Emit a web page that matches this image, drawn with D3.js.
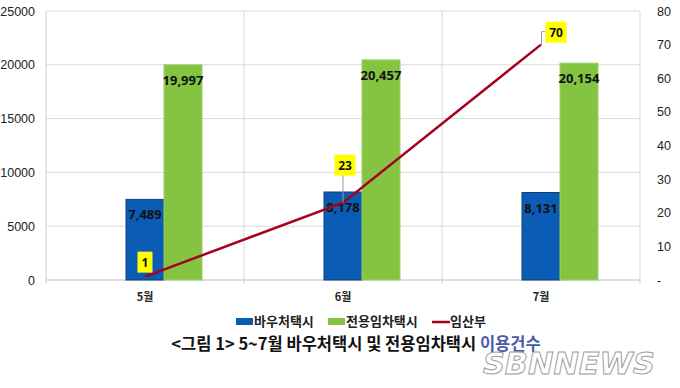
<!DOCTYPE html>
<html>
<head>
<meta charset="utf-8">
<script src="https://cdn.jsdelivr.net/npm/d3@7"></script>
<style>
  body { margin: 0; background: #fff; }
  svg { font-family: "Noto Sans CJK KR", "Noto Sans", sans-serif; }
</style>
</head>
<body>
<svg id="chart"></svg>
<script>
// data
const months = ["5월", "6월", "7월"];
const voucherTaxi = [7489, 8178, 8131];     // 바우처택시
const rentalTaxi = [19997, 20457, 20154];    // 전용임차택시
const pregnant = [1, 23, 70];                // 임산부 (right axis)
const leftTicks = [0, 5000, 10000, 15000, 20000, 25000];
const rightTicks = [0, 10, 20, 30, 40, 50, 60, 70, 80];
const seriesNames = ["바우처택시", "전용임차택시", "임산부"];

const width = 680, height = 388;
const margin = { top: 11, right: 40, bottom: 108, left: 46 };
const innerW = width - margin.left - margin.right;
const innerH = height - margin.top - margin.bottom;

const colors = { blue: "#0b5cb5", green: "#84c441", red: "#a8001e" };

const svg = d3.select("#chart").attr("width", width).attr("height", height);
const chart = svg.append("g").attr("transform", `translate(${margin.left},${margin.top})`);

const x = d3.scaleBand().domain(months).range([0, innerW]);
// first slot left empty, as in the original spreadsheet chart
const xInner = d3.scaleBand().domain(["", seriesNames[0], seriesNames[1]])
  .range([x.bandwidth() / 2 - 57, x.bandwidth() / 2 + 57]);
const yLeft = d3.scaleLinear().domain([0, 25000]).range([innerH, 0]);
const yRight = d3.scaleLinear().domain([0, 80]).range([innerH, 0]);

// horizontal grid
chart.selectAll(".hgrid").data(leftTicks).join("line")
  .attr("class", "hgrid")
  .attr("x1", 0).attr("x2", innerW)
  .attr("y1", d => yLeft(d)).attr("y2", d => yLeft(d))
  .attr("stroke", "#d9d9d9").attr("stroke-width", 1);

// vertical grid at category boundaries
chart.selectAll(".vgrid").data(months.slice(1)).join("line")
  .attr("class", "vgrid")
  .attr("x1", d => x(d)).attr("x2", d => x(d))
  .attr("y1", 0).attr("y2", innerH)
  .attr("stroke", "#d9d9d9");

// frame
chart.append("line").attr("x1", 0).attr("x2", 0).attr("y1", 0).attr("y2", innerH + 4).attr("stroke", "#d0d0d0");
chart.append("line").attr("x1", innerW).attr("x2", innerW).attr("y1", 0).attr("y2", innerH).attr("stroke", "#d9d9d9");
chart.append("line").attr("x1", 0).attr("x2", innerW).attr("y1", innerH).attr("y2", innerH).attr("stroke", "#d0d0d0");
chart.selectAll(".xtick").data(months.slice(1).concat("end")).join("line")
  .attr("x1", (d, i) => i < 2 ? x(d) : innerW).attr("x2", (d, i) => i < 2 ? x(d) : innerW)
  .attr("y1", innerH).attr("y2", innerH + 4).attr("stroke", "#d0d0d0");

// left axis labels
const leftAxis = chart.append("g")
  .call(d3.axisLeft(yLeft).tickValues(leftTicks).tickSize(0).tickPadding(11).tickFormat(d3.format("d")));
leftAxis.select(".domain").remove();
leftAxis.selectAll("text").attr("font-size", 12.5).attr("fill", "#222")
  .attr("font-family", "'Liberation Sans', sans-serif");

// right axis labels
const rightAxis = chart.append("g").attr("transform", `translate(${innerW},0)`)
  .call(d3.axisRight(yRight).tickValues(rightTicks).tickSize(0).tickPadding(17)
    .tickFormat(d => d === 0 ? "-" : d));
rightAxis.select(".domain").remove();
rightAxis.selectAll("text").attr("font-size", 12.5).attr("fill", "#222")
  .attr("font-family", "'Liberation Sans', sans-serif");

// month labels
chart.selectAll(".mlabel").data(months).join("text")
  .attr("class", "mlabel")
  .attr("x", d => x(d) + x.bandwidth() / 2)
  .attr("y", innerH + 21)
  .attr("text-anchor", "middle")
  .attr("font-size", 11).attr("font-weight", "bold").attr("fill", "#222")
  .text(d => d);

// bars
const barData = months.map((m, i) => [
  { month: m, series: seriesNames[0], value: voucherTaxi[i], fill: colors.blue, stroke: "#123f7a" },
  { month: m, series: seriesNames[1], value: rentalTaxi[i], fill: colors.green, stroke: "#9ccf6a" }
]).flat();

chart.selectAll(".bar").data(barData).join("rect")
  .attr("class", "bar")
  .attr("x", d => x(d.month) + xInner(d.series))
  .attr("y", d => yLeft(d.value))
  .attr("width", xInner.bandwidth())
  .attr("height", d => innerH - yLeft(d.value))
  .attr("fill", d => d.fill)
  .attr("stroke", d => d.stroke).attr("stroke-width", 1);

chart.selectAll(".barlabel").data(barData).join("text")
  .attr("class", "barlabel")
  .attr("x", d => x(d.month) + xInner(d.series) + xInner.bandwidth() / 2)
  .attr("y", d => yLeft(d.value) + 20)
  .attr("text-anchor", "middle")
  .attr("font-size", 13).attr("font-weight", "bold").attr("fill", "#111")
  .attr("font-family", "'Noto Sans', sans-serif")
  .text(d => d3.format(",")(d.value));

// line series on right axis
const linePts = months.map((m, i) => ({ month: m, value: pregnant[i] }));
const line = d3.line()
  .x(d => x(d.month) + x.bandwidth() / 2)
  .y(d => yRight(d.value));
chart.append("path").datum(linePts)
  .attr("d", line)
  .attr("fill", "none")
  .attr("stroke", colors.red).attr("stroke-width", 2.5);

// yellow labels; offsets mimic the dragged labels in the source
const labelOffsets = [{ dx: 0, dy: -15 }, { dx: 2, dy: -38 }, { dx: 15, dy: -13 }];
const lbl = chart.selectAll(".ptlabel").data(linePts).join("g")
  .attr("class", "ptlabel")
  .attr("transform", (d, i) => `translate(${x(d.month) + x.bandwidth() / 2 + labelOffsets[i].dx},${yRight(d.value) + labelOffsets[i].dy})`);

lbl.each(function (d, i) {
  const g = d3.select(this);
  const w = String(d.value).length > 1 ? 21 : 15;
  const px = -labelOffsets[i].dx, py = -labelOffsets[i].dy;
  if (i === 1) {
    g.append("line").attr("x1", px).attr("y1", 10).attr("x2", px).attr("y2", py)
      .attr("stroke", "#999");
  } else if (i === 2) {
    g.append("path").attr("d", `M${-w / 2},0 H${-w / 2 - 4} V${py}`)
      .attr("fill", "none").attr("stroke", "#999");
  }
  g.append("rect").attr("x", -w / 2).attr("y", -10).attr("width", w).attr("height", 21)
    .attr("fill", "#ffff00");
  g.append("text").attr("text-anchor", "middle").attr("y", 5)
    .attr("font-size", 12).attr("font-weight", "bold").attr("fill", "#111")
    .attr("font-family", "'Noto Sans', sans-serif")
    .text(d.value);
});

// legend
const legend = svg.append("g").attr("transform", "translate(236,321)");
const legendItems = [
  { name: seriesNames[0], color: colors.blue, type: "rect", x: 0 },
  { name: seriesNames[1], color: colors.green, type: "rect", x: 92 },
  { name: seriesNames[2], color: colors.red, type: "line", x: 196 }
];
const li = legend.selectAll(".li").data(legendItems).join("g")
  .attr("transform", d => `translate(${d.x},0)`);
li.filter(d => d.type === "rect").append("rect")
  .attr("x", 0).attr("y", -3).attr("width", 17).attr("height", 7).attr("fill", d => d.color);
li.filter(d => d.type === "line").append("line")
  .attr("x1", 0).attr("x2", 18).attr("y1", 1).attr("y2", 1)
  .attr("stroke", d => d.color).attr("stroke-width", 2.5);
li.append("text").attr("x", 18).attr("y", 5)
  .attr("font-size", 13).attr("font-weight", "bold").attr("fill", "#222")
  .text(d => d.name);

// caption
const caption = svg.append("text").attr("x", 356).attr("y", 350)
  .attr("text-anchor", "middle")
  .attr("font-size", 16.5).attr("font-weight", "bold").attr("fill", "#111");
caption.append("tspan").text("<그림 1> 5~7월 바우처택시 및 전용임차택시 ");
caption.append("tspan").attr("fill", "#4a5aa8").text("이용건수");

// watermark
svg.append("text").attr("x", 483).attr("y", 374)
  .attr("font-size", 30).attr("font-style", "italic").attr("font-weight", "bold")
  .attr("font-family", "'DejaVu Sans', sans-serif")
  .attr("fill", "rgba(255,255,255,0.55)").attr("stroke", "#a0a0a0").attr("stroke-width", 1)
  .attr("textLength", 172).attr("lengthAdjust", "spacingAndGlyphs")
  .text("SBNNEWS");
</script>
</body>
</html>
